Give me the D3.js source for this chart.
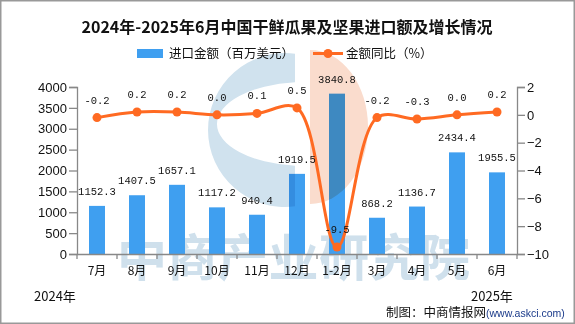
<!DOCTYPE html>
<html><head><meta charset="utf-8">
<script src="https://cdn.jsdelivr.net/npm/d3@7"></script>
<style>
html,body{margin:0;padding:0;background:#fff;}
svg{display:block;}
</style></head>
<body>
<svg id="chart" width="575" height="324"></svg>
<script>
const categories = ["7月","8月","9月","10月","11月","12月","1-2月","3月","4月","5月","6月"];
const importValues = [1152.3,1407.5,1657.1,1117.2,940.4,1919.5,3840.8,868.2,1136.7,2434.4,1955.5];
const growthValues = [-0.2,0.2,0.2,0.0,0.1,0.5,-9.5,-0.2,-0.3,0.0,0.2];
const leftTicks = [0,500,1000,1500,2000,2500,3000,3500,4000];
const rightTicks = [2,0,-2,-4,-6,-8,-10];
const titleText = "2024年-2025年6月中国干鲜瓜果及坚果进口额及增长情况";
const legendBar = "进口金额（百万美元）";
const legendLine = "金额同比（%）";

(function(){
const svg = d3.select("#chart");
const W = 575, H = 324;
const pL = 77, pR = 517, pT = 87, pB = 254;
const cjk = "'Noto Sans CJK SC','Noto Sans',sans-serif";
const BAR = "#3f9ff0", LINE = "#ff6a22", AX = "#888";

svg.append("rect").attr("x",0.75).attr("y",0.75).attr("width",W-1.5).attr("height",H-1.5)
  .attr("fill","#fff").attr("stroke","#999").attr("stroke-width",1.5);

svg.append("text").attr("x",117).attr("y",276).attr("font-family",cjk).attr("font-weight","bold")
  .attr("font-size",50).attr("fill","#cfe0ec").attr("textLength",353).attr("lengthAdjust","spacing")
  .text("中商产业研究院");

const x = d3.scaleBand().domain(categories).range([pL,pR]).paddingInner(0).paddingOuter(0);
const yL = d3.scaleLinear().domain([0,4000]).range([pB,pT]);
const yR = d3.scaleLinear().domain([-10,2]).range([pB,pT]);
const bw = 16;

svg.append("g").selectAll("rect").data(importValues).join("rect")
  .attr("x",(d,i)=>x(categories[i])+x.bandwidth()/2-bw/2)
  .attr("y",d=>yL(d)).attr("width",bw).attr("height",d=>pB-yL(d)).attr("fill",BAR);

// watermark logo: blue "C" and orange half, multiplied over the bars
const cx = 285, cy = 130, r = 77, cut = 295;
const ex = 305, ey = 124, rx = 88, ry = 42;
const dyC = Math.sqrt(r*r - (cut-cx)*(cut-cx));
const dyE = ry*Math.sqrt(1 - Math.pow((cut-ex)/rx,2));
const cPath = `M${cut},${(cy-dyC).toFixed(2)} A${r},${r} 0 1,0 ${cut},${(cy+dyC).toFixed(2)} L${cut},${(ey+dyE).toFixed(2)} A${rx},${ry} 0 0,1 ${cut},${(ey-dyE).toFixed(2)} Z`;
svg.append("path").attr("d", cPath).attr("fill","#d0e2ee").style("mix-blend-mode","multiply");

const ox = 310, oy = 127, orx = 58, ory = 77;
svg.append("path").attr("d",`M${ox},${oy-ory} A${orx},${ory} 0 0,1 ${ox},${oy+ory} Z`)
  .attr("fill","#fadccd").style("mix-blend-mode","multiply");

const axL = svg.append("g").attr("transform",`translate(${pL},0)`)
  .call(d3.axisLeft(yL).tickValues(leftTicks).tickSize(8).tickPadding(2).tickFormat(d3.format("d")));
const axR = svg.append("g").attr("transform",`translate(${pR},0)`)
  .call(d3.axisRight(yR).tickValues(rightTicks).tickSize(8).tickPadding(2));
const axB = svg.append("g").attr("transform",`translate(0,${pB})`)
  .call(d3.axisBottom(x).tickSize(0).tickPadding(12));
[axL,axR,axB].forEach(g=>{
  g.select(".domain").attr("stroke",AX).attr("stroke-width",1.3);
  g.selectAll(".tick line").attr("stroke",AX).attr("stroke-width",1.3);
});
axL.selectAll("text").attr("font-family","'Liberation Sans',Arial,sans-serif").attr("font-size",13).attr("fill","#111");
axR.selectAll("text").attr("font-family","'Liberation Sans',Arial,sans-serif").attr("font-size",13).attr("fill","#111");
axB.selectAll("text").attr("font-family",cjk).attr("font-size",12).attr("fill","#111");
svg.append("g").selectAll("line").data(d3.range(categories.length+1)).join("line")
  .attr("x1",i=>pL+i*x.bandwidth()).attr("x2",i=>pL+i*x.bandwidth())
  .attr("y1",pB).attr("y2",pB+5).attr("stroke",AX).attr("stroke-width",1.3);

const pts = growthValues.map((v,i)=>[x(categories[i])+x.bandwidth()/2, yR(v)]);
svg.append("path").datum(pts).attr("fill","none").attr("stroke",LINE).attr("stroke-width",3)
  .attr("d",d3.line().curve(d3.curveCatmullRom.alpha(0.5)));
svg.append("g").selectAll("circle").data(pts).join("circle")
  .attr("cx",d=>d[0]).attr("cy",d=>d[1]).attr("r",4.5).attr("fill",LINE);

const mono = "'Liberation Mono','DejaVu Sans Mono',monospace";
svg.append("g").selectAll("text").data(importValues).join("text")
  .attr("x",(d,i)=>x(categories[i])+x.bandwidth()/2).attr("y",d=>yL(d)-11)
  .attr("text-anchor","middle").attr("font-family",mono).attr("font-size",10.5).attr("fill","#111")
  .text(d=>d.toFixed(1));
svg.append("g").selectAll("text").data(growthValues).join("text")
  .attr("x",(d,i)=>pts[i][0]).attr("y",(d,i)=>pts[i][1]-14)
  .attr("text-anchor","middle").attr("font-family",mono).attr("font-size",10.5).attr("fill","#111")
  .text(d=>d.toFixed(1));

svg.append("text").attr("x",287).attr("y",33).attr("text-anchor","middle")
  .attr("font-family",cjk).attr("font-weight","bold").attr("font-size",16).attr("fill","#111")
  .text(titleText);

svg.append("rect").attr("x",137).attr("y",49).attr("width",26).attr("height",9).attr("fill",BAR);
svg.append("text").attr("x",169).attr("y",58).attr("font-family",cjk).attr("font-size",12.5).attr("fill","#111").text(legendBar);
svg.append("line").attr("x1",313).attr("x2",343).attr("y1",53.5).attr("y2",53.5).attr("stroke",LINE).attr("stroke-width",3);
svg.append("circle").attr("cx",328).attr("cy",53.5).attr("r",4.5).attr("fill",LINE);
svg.append("text").attr("x",346).attr("y",58).attr("font-family",cjk).attr("font-size",12.5).attr("fill","#111").text(legendLine);

svg.append("text").attr("x",34).attr("y",301).attr("font-family",cjk).attr("font-size",13).attr("fill","#111").text("2024年");
svg.append("text").attr("x",471).attr("y",301).attr("font-family",cjk).attr("font-size",13).attr("fill","#111").text("2025年");
const src = svg.append("text").attr("x",386).attr("y",317).attr("font-family",cjk).attr("font-size",12.5).attr("fill","#111");
src.append("tspan").text("制图：中商情报网");
src.append("tspan").attr("font-size",10.5).attr("fill","#1a3a8a").attr("font-family","'Liberation Sans',Arial,sans-serif").text("(www.askci.com)");
})();
</script>
</body></html>
